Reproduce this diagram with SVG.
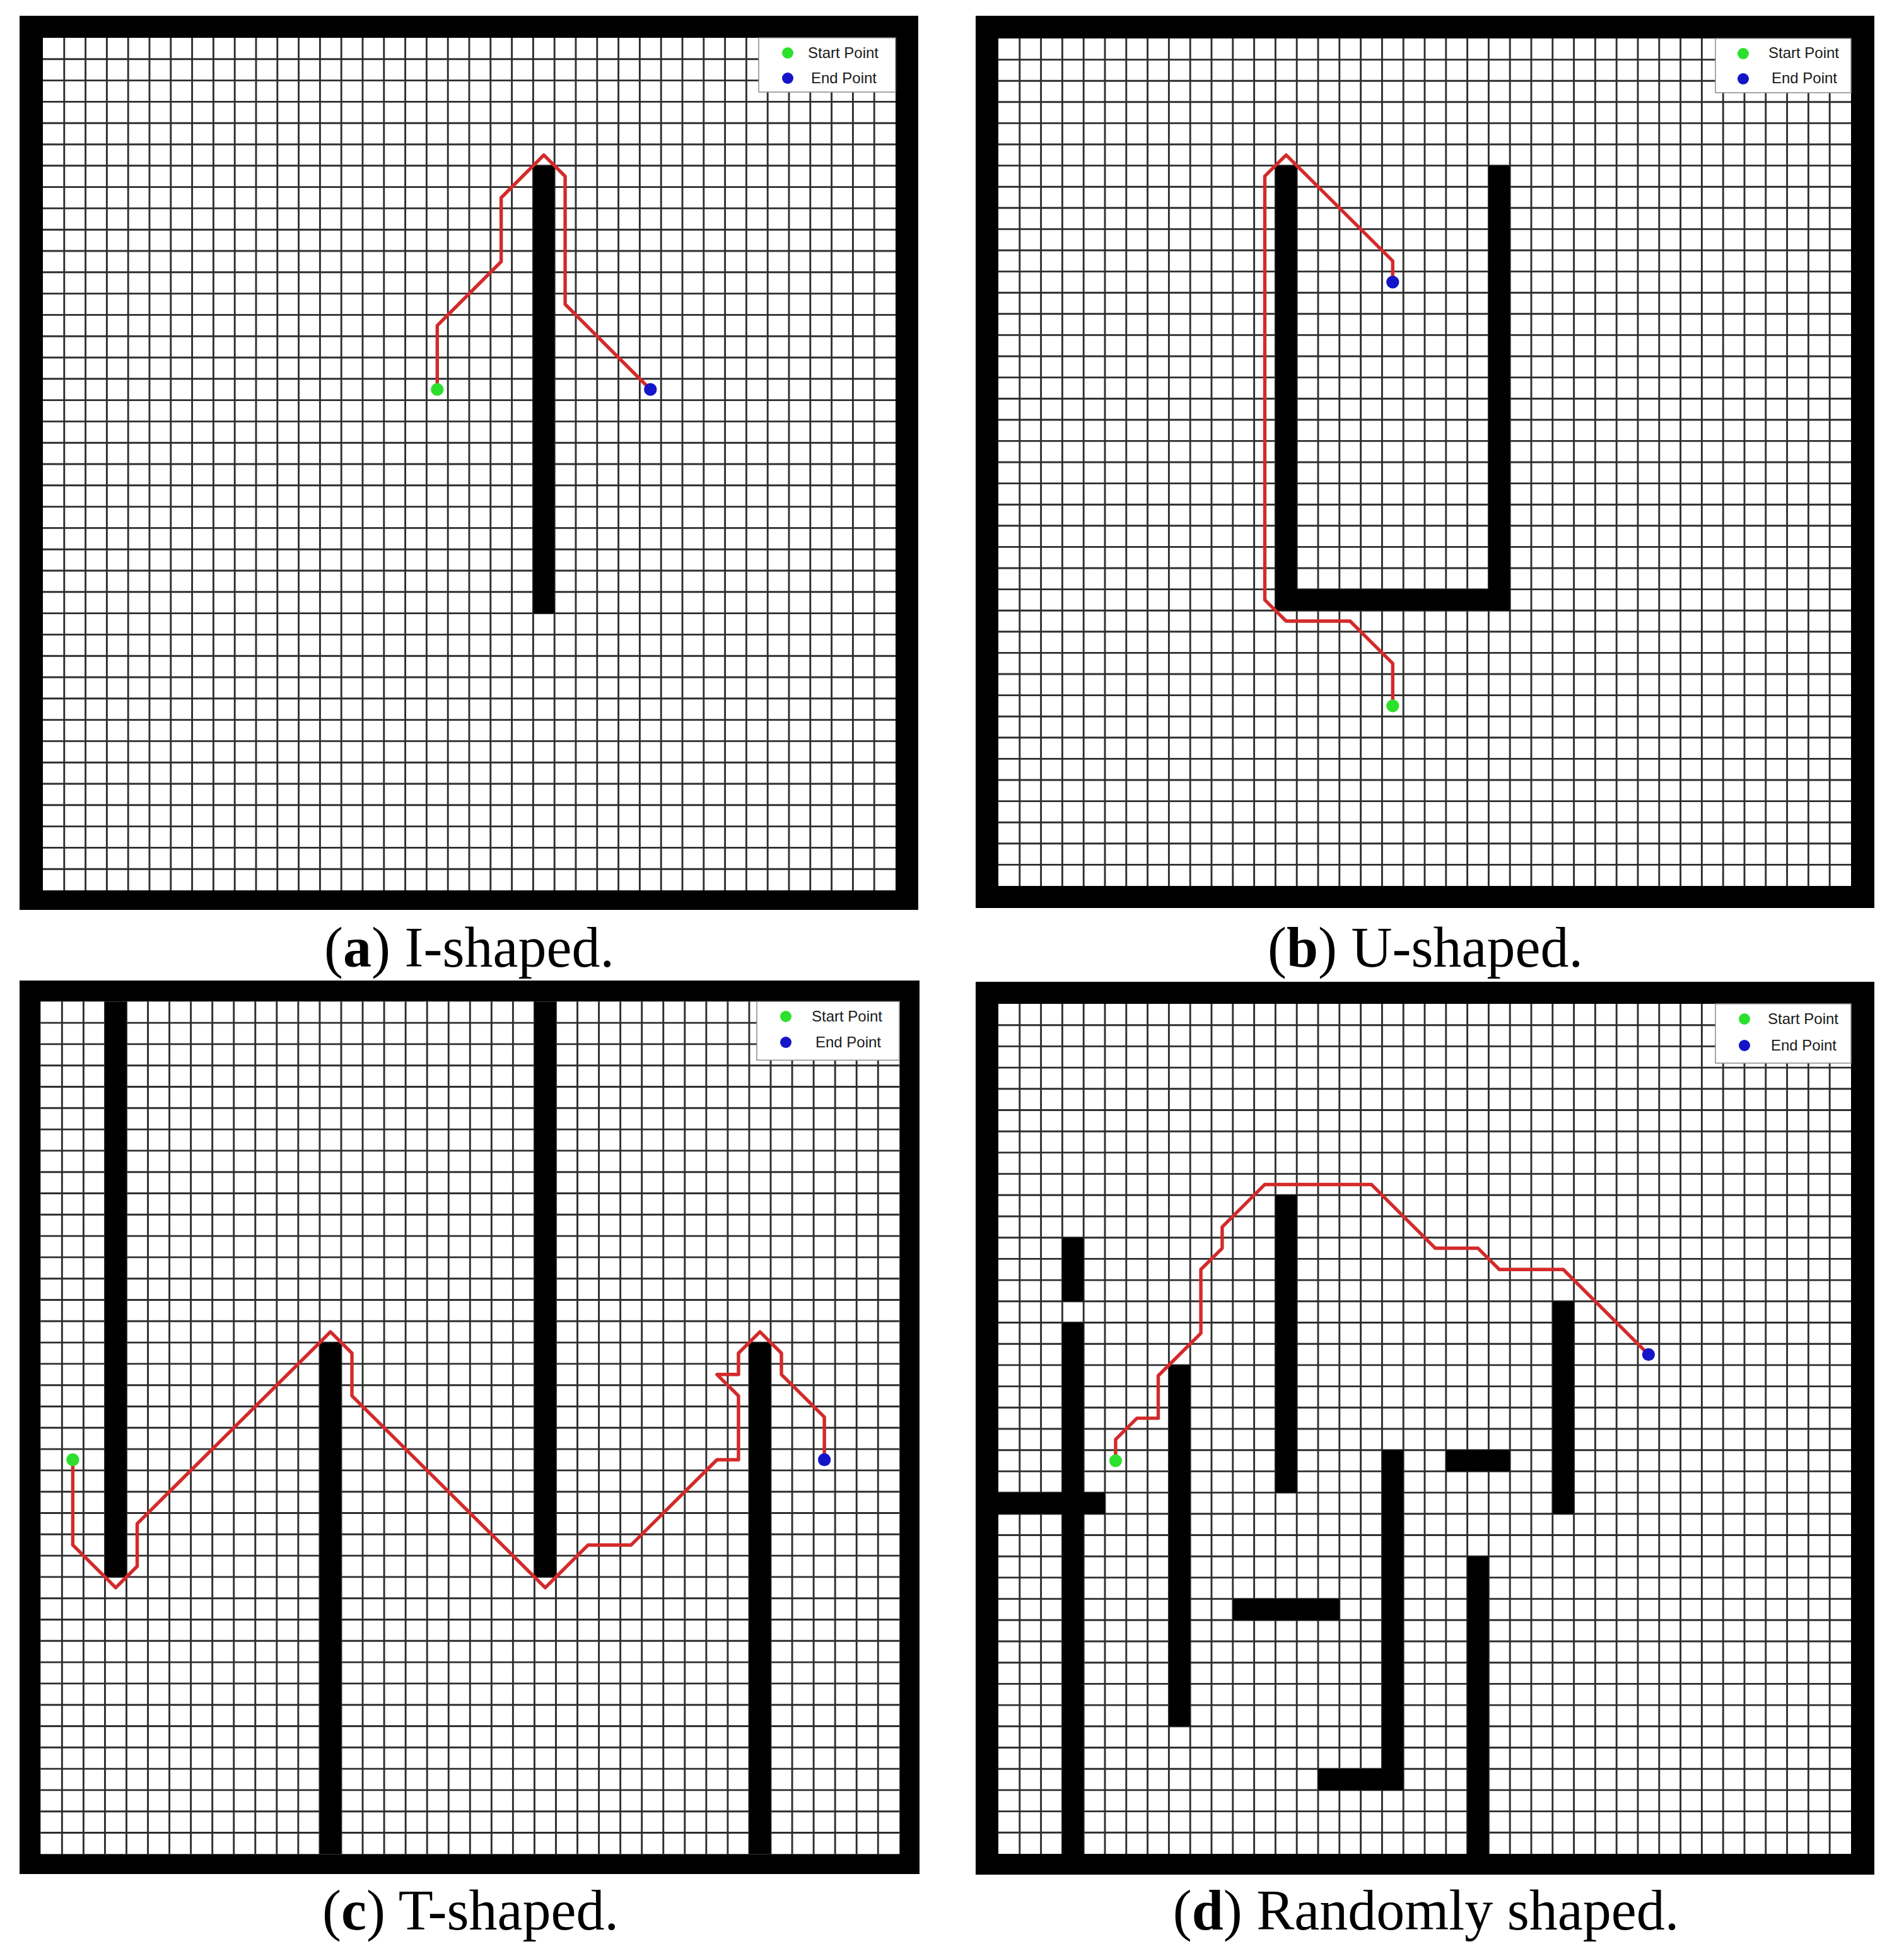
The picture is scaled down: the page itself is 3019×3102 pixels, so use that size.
<svg xmlns="http://www.w3.org/2000/svg" xmlns:xlink="http://www.w3.org/1999/xlink" width="3019" height="3102" viewBox="0 0 3019 3102">
<style>
.frame{fill:#000}
.field{fill:#fff}
.grid{fill:none;stroke:#2e2e2e;stroke-width:0.085}
.obs{fill:#000}
.route{fill:none;stroke:#d42a2a;stroke-width:0.16;stroke-linejoin:round;stroke-linecap:round}
.start{fill:#2ee02e}
.end{fill:#1414c8}
.legbox{fill:#fff;stroke:#8a8a8a;stroke-width:1.5}
.legtxt{font-family:"Liberation Sans",Arial,sans-serif;font-size:24px;fill:#1a1a1a;text-anchor:middle}
.cap{font-family:"Liberation Serif","Times New Roman",serif;font-size:90px;fill:#000;text-anchor:middle}
</style>
<defs>
<path id="gridlines" class="grid" d="M1 0V40M2 0V40M3 0V40M4 0V40M5 0V40M6 0V40M7 0V40M8 0V40M9 0V40M10 0V40M11 0V40M12 0V40M13 0V40M14 0V40M15 0V40M16 0V40M17 0V40M18 0V40M19 0V40M20 0V40M21 0V40M22 0V40M23 0V40M24 0V40M25 0V40M26 0V40M27 0V40M28 0V40M29 0V40M30 0V40M31 0V40M32 0V40M33 0V40M34 0V40M35 0V40M36 0V40M37 0V40M38 0V40M39 0V40M0 1H40M0 2H40M0 3H40M0 4H40M0 5H40M0 6H40M0 7H40M0 8H40M0 9H40M0 10H40M0 11H40M0 12H40M0 13H40M0 14H40M0 15H40M0 16H40M0 17H40M0 18H40M0 19H40M0 20H40M0 21H40M0 22H40M0 23H40M0 24H40M0 25H40M0 26H40M0 27H40M0 28H40M0 29H40M0 30H40M0 31H40M0 32H40M0 33H40M0 34H40M0 35H40M0 36H40M0 37H40M0 38H40M0 39H40"/>
</defs>
<rect width="3019" height="3102" fill="#fff"/>

<g id="panel-a">
<rect class="frame" x="31" y="25" width="1425" height="1418"/>
<rect class="field" x="68" y="60" width="1352" height="1352"/>
<g transform="translate(68 60) scale(33.8 33.8)">
<use xlink:href="#gridlines"/>
<rect class="obs" x="23" y="6" width="1" height="21"/>
<polyline class="route" points="18.5,16.5 18.5,13.5 21.5,10.5 21.5,7.5 23.5,5.5 24.5,6.5 24.5,12.5 28.5,16.5"/>
<circle class="start" cx="18.5" cy="16.5" r="0.3"/>
<circle class="end" cx="28.5" cy="16.5" r="0.3"/>
</g>
<g id="legend-a">
<rect class="legbox" x="1203" y="60" width="217" height="86"/>
<circle class="start" cx="1249" cy="84" r="9"/>
<circle class="end" cx="1249" cy="124" r="9"/>
<text class="legtxt" x="1337" y="92">Start Point</text>
<text class="legtxt" x="1338" y="132">End Point</text>
</g>
<text id="caption-a" class="cap" x="744" y="1533">(<tspan font-weight="bold">a</tspan>) I-shaped.</text>
</g>

<g id="panel-b">
<rect class="frame" x="1547" y="25" width="1425" height="1415"/>
<rect class="field" x="1583" y="61" width="1352" height="1344"/>
<g transform="translate(1583 61) scale(33.8 33.6)">
<use xlink:href="#gridlines"/>
<rect class="obs" x="13" y="6" width="1" height="21"/>
<rect class="obs" x="13" y="26" width="11" height="1"/>
<rect class="obs" x="23" y="6" width="1" height="21"/>
<polyline class="route" points="18.5,31.5 18.5,29.5 16.5,27.5 13.5,27.5 12.5,26.5 12.5,6.5 13.5,5.5 18.5,10.5 18.5,11.5"/>
<circle class="start" cx="18.5" cy="31.5" r="0.3"/>
<circle class="end" cx="18.5" cy="11.5" r="0.3"/>
</g>
<g id="legend-b">
<rect class="legbox" x="2720" y="61" width="215" height="86"/>
<circle class="start" cx="2764" cy="85" r="9"/>
<circle class="end" cx="2764" cy="125" r="9"/>
<text class="legtxt" x="2860" y="92">Start Point</text>
<text class="legtxt" x="2861" y="132">End Point</text>
</g>
<text id="caption-b" class="cap" x="2260" y="1533">(<tspan font-weight="bold">b</tspan>) U-shaped.</text>
</g>

<g id="panel-c">
<rect class="frame" x="31" y="1555" width="1427" height="1417"/>
<rect class="field" x="64.3" y="1588.3" width="1362" height="1352"/>
<g transform="translate(64.3 1588.3) scale(34.05 33.8)">
<use xlink:href="#gridlines"/>
<rect class="obs" x="3" y="0" width="1" height="27"/>
<rect class="obs" x="13" y="16" width="1" height="24"/>
<rect class="obs" x="23" y="0" width="1" height="27"/>
<rect class="obs" x="33" y="16" width="1" height="24"/>
<polyline class="route" points="1.5,21.5 1.5,25.5 3.5,27.5 4.5,26.5 4.5,24.5 13.5,15.5 14.5,16.5 14.5,18.5 23.5,27.5 25.5,25.5 27.5,25.5 31.5,21.5 32.5,21.5 32.5,18.5 31.5,17.5 32.5,17.5 32.5,16.5 33.5,15.5 34.5,16.5 34.5,17.5 36.5,19.5 36.5,21.5"/>
<circle class="start" cx="1.5" cy="21.5" r="0.3"/>
<circle class="end" cx="36.5" cy="21.5" r="0.3"/>
</g>
<g id="legend-c">
<rect class="legbox" x="1200" y="1588.3" width="226" height="93"/>
<circle class="start" cx="1246" cy="1612" r="9"/>
<circle class="end" cx="1246" cy="1653" r="9"/>
<text class="legtxt" x="1343" y="1620">Start Point</text>
<text class="legtxt" x="1345" y="1661">End Point</text>
</g>
<text id="caption-c" class="cap" x="746" y="3060">(<tspan font-weight="bold">c</tspan>) T-shaped.</text>
</g>

<g id="panel-d">
<rect class="frame" x="1547" y="1557" width="1425" height="1416"/>
<rect class="field" x="1583" y="1592" width="1352" height="1348"/>
<g transform="translate(1583 1592) scale(33.8 33.7)">
<use xlink:href="#gridlines"/>
<rect class="obs" x="3" y="11" width="1" height="3"/>
<rect class="obs" x="3" y="15" width="1" height="25"/>
<rect class="obs" x="0" y="23" width="5" height="1"/>
<rect class="obs" x="8" y="17" width="1" height="17"/>
<rect class="obs" x="13" y="9" width="1" height="14"/>
<rect class="obs" x="11" y="28" width="5" height="1"/>
<rect class="obs" x="18" y="21" width="1" height="16"/>
<rect class="obs" x="15" y="36" width="4" height="1"/>
<rect class="obs" x="21" y="21" width="3" height="1"/>
<rect class="obs" x="22" y="26" width="1" height="14"/>
<rect class="obs" x="26" y="14" width="1" height="10"/>
<polyline class="route" points="5.5,21.5 5.5,20.5 6.5,19.5 7.5,19.5 7.5,17.5 9.5,15.5 9.5,12.5 10.5,11.5 10.5,10.5 12.5,8.5 17.5,8.5 20.5,11.5 22.5,11.5 23.5,12.5 26.5,12.5 30.5,16.5"/>
<circle class="start" cx="5.5" cy="21.5" r="0.3"/>
<circle class="end" cx="30.5" cy="16.5" r="0.3"/>
</g>
<g id="legend-d">
<rect class="legbox" x="2720" y="1592" width="215" height="94"/>
<circle class="start" cx="2766" cy="1616" r="9"/>
<circle class="end" cx="2766" cy="1658" r="9"/>
<text class="legtxt" x="2859" y="1624">Start Point</text>
<text class="legtxt" x="2860" y="1666">End Point</text>
</g>
<text id="caption-d" class="cap" x="2261" y="3060">(<tspan font-weight="bold">d</tspan>) Randomly shaped.</text>
</g>
</svg>
